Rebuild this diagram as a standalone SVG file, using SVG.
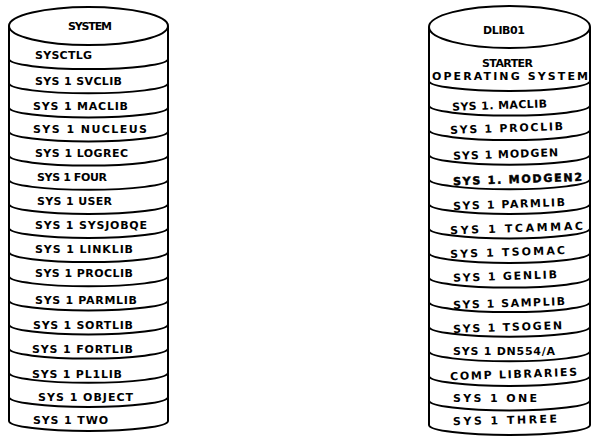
<svg xmlns="http://www.w3.org/2000/svg" width="593" height="437" viewBox="0 0 593 437">
<style>
.ln{fill:none;stroke:#000;stroke-width:2}
.top{fill:#fff;stroke:#000;stroke-width:2}
.t{font-family:"DejaVu Sans","Liberation Sans",sans-serif;font-weight:bold;font-size:11px;fill:#000}
.hv{stroke:#000;stroke-width:0.5}
</style>
<rect width="593" height="437" fill="#fff"/>
<g id="cyl-system">
  <ellipse class="top" cx="88.5" cy="26" rx="79.5" ry="19"/>
  <line class="ln" x1="9" y1="26" x2="9" y2="421"/>
  <line class="ln" x1="168" y1="26" x2="168" y2="421"/>
  <g id="s-bands">
    <path class="ln" d="M9,59.1 A79.5,10 0 0 0 168,59.1"/>
    <path class="ln" d="M9,83.3 A79.5,10 0 0 0 168,83.3"/>
    <path class="ln" d="M9,107.4 A79.5,10 0 0 0 168,107.4"/>
    <path class="ln" d="M9,131.5 A79.5,10 0 0 0 168,131.5"/>
    <path class="ln" d="M9,155.6 A79.5,10 0 0 0 168,155.6"/>
    <path class="ln" d="M9,179.8 A79.5,10 0 0 0 168,179.8"/>
    <path class="ln" d="M9,203.9 A79.5,10 0 0 0 168,203.9"/>
    <path class="ln" d="M9,228 A79.5,10 0 0 0 168,228"/>
    <path class="ln" d="M9,252.1 A79.5,10 0 0 0 168,252.1"/>
    <path class="ln" d="M9,276.3 A79.5,10 0 0 0 168,276.3"/>
    <path class="ln" d="M9,300.4 A79.5,10 0 0 0 168,300.4"/>
    <path class="ln" d="M9,324.5 A79.5,10 0 0 0 168,324.5"/>
    <path class="ln" d="M9,348.6 A79.5,10 0 0 0 168,348.6"/>
    <path class="ln" d="M9,372.8 A79.5,10 0 0 0 168,372.8"/>
    <path class="ln" d="M9,396.9 A79.5,10 0 0 0 168,396.9"/>
    <path class="ln" d="M9,421 A79.5,10 0 0 0 168,421"/>
  </g>
  <g id="s-labels">
    <text class="t" x="68" y="29.5" font-size="9.5" textLength="44" lengthAdjust="spacing">SYSTEM</text>
    <text class="t" x="35" y="59" textLength="57" lengthAdjust="spacing">SYSCTLG</text>
    <text class="t" x="35" y="85" textLength="87" lengthAdjust="spacing">SYS 1 SVCLIB</text>
    <text class="t" x="33" y="110" textLength="95" lengthAdjust="spacing">SYS 1 MACLIB</text>
    <text class="t" x="33" y="133" textLength="114" lengthAdjust="spacing">SYS 1 NUCLEUS</text>
    <text class="t" x="35" y="157" textLength="93" lengthAdjust="spacing">SYS 1 LOGREC</text>
    <text class="t" x="37" y="181" textLength="70" lengthAdjust="spacing">SYS 1 FOUR</text>
    <text class="t" x="37" y="205" textLength="75" lengthAdjust="spacing">SYS 1 USER</text>
    <text class="t" x="35" y="229" textLength="112" lengthAdjust="spacing">SYS 1 SYSJOBQE</text>
    <text class="t" x="35" y="253" textLength="98" lengthAdjust="spacing">SYS 1 LINKLIB</text>
    <text class="t" x="35" y="277" textLength="98" lengthAdjust="spacing">SYS 1 PROCLIB</text>
    <text class="t" x="35" y="304" textLength="102" lengthAdjust="spacing">SYS 1 PARMLIB</text>
    <text class="t" x="33" y="329" textLength="100" lengthAdjust="spacing">SYS 1 SORTLIB</text>
    <text class="t" x="32" y="353" textLength="101" lengthAdjust="spacing">SYS 1 FORTLIB</text>
    <text class="t" x="32" y="378" textLength="90" lengthAdjust="spacing">SYS 1 PL1LIB</text>
    <text class="t" x="38" y="401" textLength="95" lengthAdjust="spacing">SYS 1 OBJECT</text>
    <text class="t" x="33" y="424" textLength="75" lengthAdjust="spacing">SYS 1 TWO</text>
  </g>
</g>
<g id="cyl-dlib01">
  <ellipse class="top" cx="509.5" cy="27" rx="80.5" ry="21"/>
  <line class="ln" x1="429" y1="27" x2="429" y2="425"/>
  <line class="ln" x1="590" y1="27" x2="590" y2="425"/>
  <g id="d-bands">
    <path class="ln" d="M429,81 A80.5,10 0 0 0 590,81"/>
    <path class="ln" d="M429,105.6 A80.5,10 0 0 0 590,105.6"/>
    <path class="ln" d="M429,130.1 A80.5,10 0 0 0 590,130.1"/>
    <path class="ln" d="M429,154.7 A80.5,10 0 0 0 590,154.7"/>
    <path class="ln" d="M429,179.3 A80.5,10 0 0 0 590,179.3"/>
    <path class="ln" d="M429,203.9 A80.5,10 0 0 0 590,203.9"/>
    <path class="ln" d="M429,228.4 A80.5,10 0 0 0 590,228.4"/>
    <path class="ln" d="M429,253 A80.5,10 0 0 0 590,253"/>
    <path class="ln" d="M429,277.6 A80.5,10 0 0 0 590,277.6"/>
    <path class="ln" d="M429,302.1 A80.5,10 0 0 0 590,302.1"/>
    <path class="ln" d="M429,326.7 A80.5,10 0 0 0 590,326.7"/>
    <path class="ln" d="M429,351.3 A80.5,10 0 0 0 590,351.3"/>
    <path class="ln" d="M429,375.9 A80.5,10 0 0 0 590,375.9"/>
    <path class="ln" d="M429,400.4 A80.5,10 0 0 0 590,400.4"/>
    <path class="ln" d="M429,425 A80.5,10 0 0 0 590,425"/>
  </g>
  <g id="d-labels">
    <text class="t" x="483" y="34" font-size="10.5" textLength="42" lengthAdjust="spacing">DLIB01</text>
    <text class="t" x="482" y="67" font-size="10" textLength="51" lengthAdjust="spacing">STARTER</text>
    <text class="t" x="432" y="80" textLength="156" lengthAdjust="spacing">OPERATING SYSTEM</text>
    <text class="t" x="452" y="109" textLength="95" lengthAdjust="spacing" transform="rotate(-2 500 105)">SYS 1. MACLIB</text>
    <text class="t" x="450" y="132" textLength="113" lengthAdjust="spacing" transform="rotate(-2 506 128)">SYS 1 PROCLIB</text>
    <text class="t" x="453" y="158" textLength="105" lengthAdjust="spacing" transform="rotate(-2 505 154)">SYS 1 MODGEN</text>
    <text class="t hv" x="453" y="183" textLength="129" lengthAdjust="spacing" transform="rotate(-2 517 179)">SYS 1. MODGEN2</text>
    <text class="t" x="453" y="208" textLength="112" lengthAdjust="spacing" transform="rotate(-2 509 204)">SYS 1 PARMLIB</text>
    <text class="t" x="450" y="232" textLength="133" lengthAdjust="spacing" transform="rotate(-2 516 228)">SYS 1 TCAMMAC</text>
    <text class="t" x="450" y="256" textLength="115" lengthAdjust="spacing" transform="rotate(-2 507 252)">SYS 1 TSOMAC</text>
    <text class="t" x="453" y="280" textLength="104" lengthAdjust="spacing" transform="rotate(-2 505 276)">SYS 1 GENLIB</text>
    <text class="t" x="453" y="307" textLength="112" lengthAdjust="spacing" transform="rotate(-2 509 303)">SYS 1 SAMPLIB</text>
    <text class="t" x="453" y="331" textLength="109" lengthAdjust="spacing" transform="rotate(-2 507 327)">SYS 1 TSOGEN</text>
    <text class="t" x="453" y="355" textLength="102" lengthAdjust="spacing">SYS 1 DN554/A</text>
    <text class="t" x="450" y="378" textLength="127" lengthAdjust="spacing" transform="rotate(-2 513 374)">COMP LIBRARIES</text>
    <text class="t" x="453" y="402" textLength="84" lengthAdjust="spacing">SYS 1 ONE</text>
    <text class="t" x="453" y="424" textLength="104" lengthAdjust="spacing" transform="rotate(-1.5 505 420)">SYS 1 THREE</text>
  </g>
</g>
</svg>
